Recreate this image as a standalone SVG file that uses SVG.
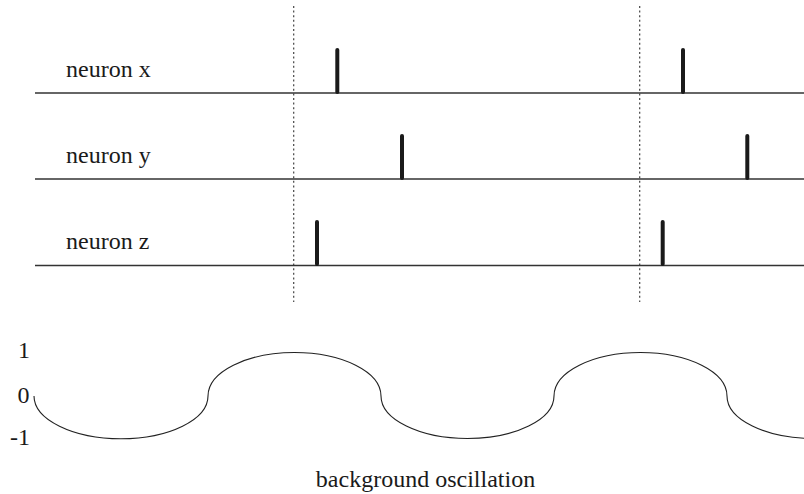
<svg xmlns="http://www.w3.org/2000/svg" width="804" height="494" viewBox="0 0 804 494">
<style>
text{font-family:"Liberation Serif","Times New Roman",serif;font-size:24px;fill:#1a1a1a}
.axis{stroke:#333;stroke-width:1.3;fill:none}
.spike{stroke:#1a1a1a;stroke-width:4;stroke-linecap:round}
.dot{stroke:#444;stroke-width:1.2;stroke-dasharray:2 2.6;fill:none}
.wave{stroke:#222;stroke-width:1.1;fill:none}
</style>
<rect width="804" height="494" fill="#fff"/>
<g id="cycle-markers">
<line class="dot" x1="293.7" y1="6" x2="293.7" y2="302"/>
<line class="dot" x1="639.7" y1="6" x2="639.7" y2="302"/>
</g>
<g id="neuron-x">
<text x="66" y="77">neuron x</text>
<line class="axis" x1="35" y1="93" x2="804" y2="93"/>
<line class="spike" x1="337.3" y1="50" x2="337.3" y2="92"/>
<line class="spike" x1="683" y1="50" x2="683" y2="92"/>
</g>
<g id="neuron-y">
<text x="66" y="163">neuron y</text>
<line class="axis" x1="35" y1="179" x2="804" y2="179"/>
<line class="spike" x1="402" y1="136" x2="402" y2="178"/>
<line class="spike" x1="747.3" y1="136" x2="747.3" y2="178"/>
</g>
<g id="neuron-z">
<text x="66" y="249">neuron z</text>
<line class="axis" x1="35" y1="265.5" x2="804" y2="265.5"/>
<line class="spike" x1="317" y1="222" x2="317" y2="264"/>
<line class="spike" x1="662.7" y1="222" x2="662.7" y2="264"/>
</g>
<g id="oscillation">
<text x="18" y="358">1</text>
<text x="17.5" y="403">0</text>
<text x="10" y="445">-1</text>
<path class="wave" d="M34,396 A86.5,42.5 0 0 0 208,396 A86.5,43.5 0 0 1 381,396 A86.5,42.5 0 0 0 554,396 A86.5,43.5 0 0 1 727,396 A86.5,42.5 0 0 0 900,396"/>
<text x="425.5" y="487" text-anchor="middle">background oscillation</text>
</g>
</svg>
